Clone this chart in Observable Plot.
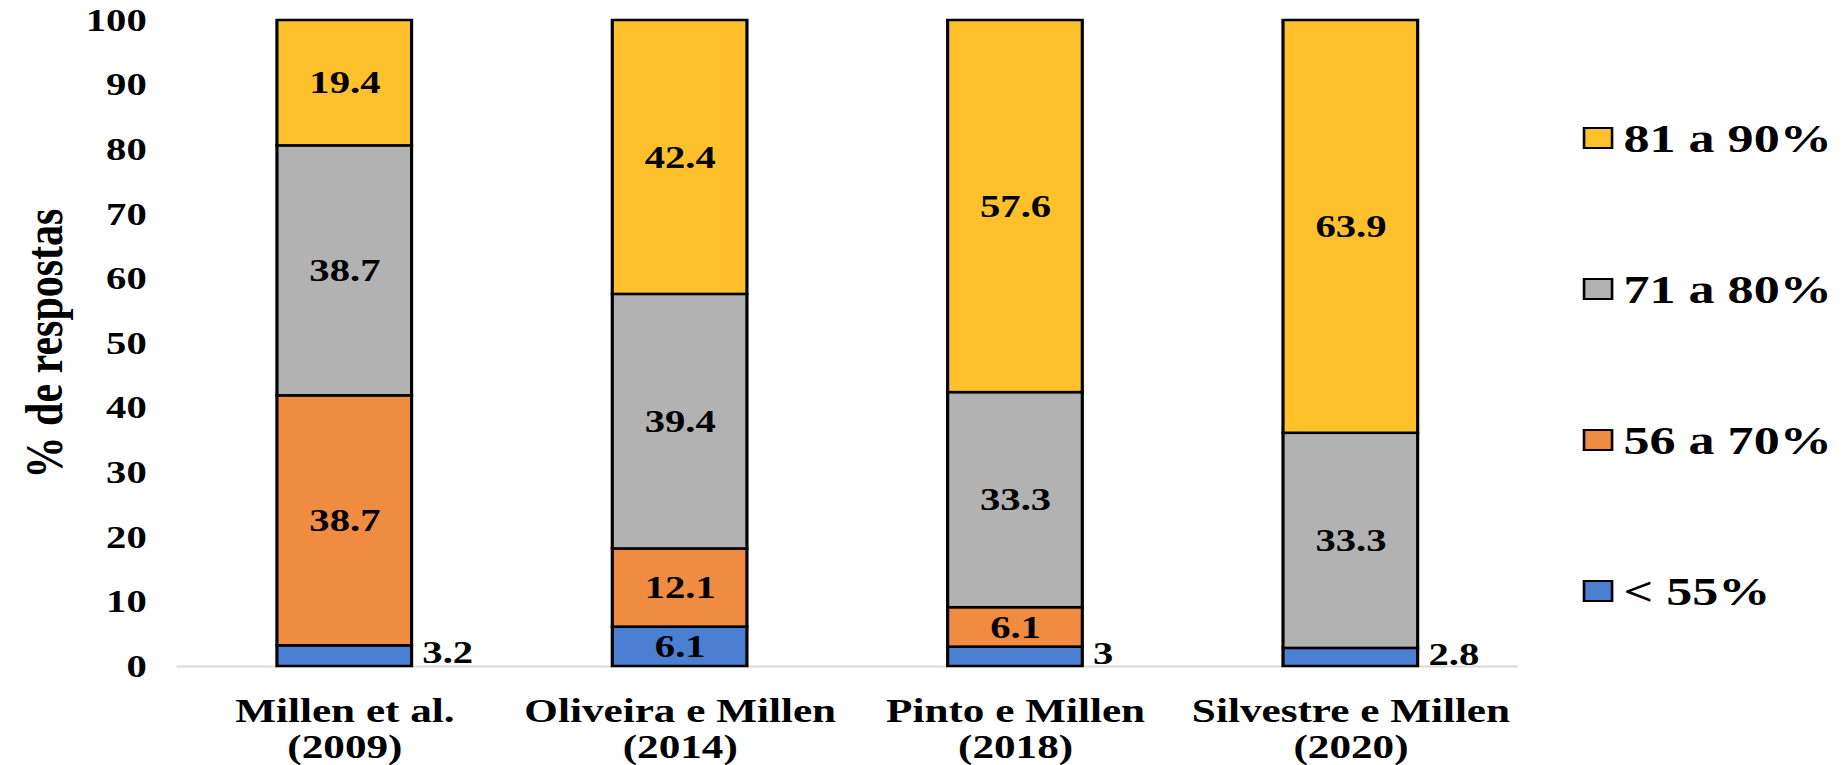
<!DOCTYPE html>
<html>
<head>
<meta charset="utf-8">
<script src="https://cdn.jsdelivr.net/npm/d3@7"></script>
<script src="https://cdn.jsdelivr.net/npm/@observablehq/plot@0.6"></script>
<style>
  body { margin: 0; background: #fff; overflow: hidden; }
  /* the whole figure is drawn at 1454px and widened to 1847px */
  #chart {
    position: relative; width: 1454px; height: 765px;
    transform: scaleX(1.2703); transform-origin: 0 0;
    font-family: "Liberation Serif", "Times New Roman", serif; font-weight: bold; color: #000;
  }
  #legend { position: absolute; left: 1246px; top: 62px; }
  .item { display: flex; align-items: center; height: 151px; font-size: 41px; white-space: nowrap; }
  .sw { width: 20px; height: 18px; border: 2px solid #000; margin-right: 8px; }
</style>
</head>
<body>
<div id="chart"></div>
<script>
// Studies on the x axis (two-line labels)
const studies = [
  "Millen et al.\n(2009)",
  "Oliveira e Millen\n(2014)",
  "Pinto e Millen\n(2018)",
  "Silvestre e Millen\n(2020)"
];

// Answer classes, bottom of the stack first
const categories = ["< 55%", "56 a 70%", "71 a 80%", "81 a 90%"];
const colors = ["#4a7fd1", "#f08c42", "#b2b2b2", "#fec12c"];

// % of answers per class, one value per study
const below55 = [3.2, 6.1, 3, 2.8];
const from56to70 = [38.7, 12.1, 6.1, 0];
const from71to80 = [38.7, 39.4, 33.3, 33.3];
const from81to90 = [19.4, 42.4, 57.6, 63.9];

const yTicks = [0, 10, 20, 30, 40, 50, 60, 70, 80, 90, 100];
const yTitle = "% de respostas";

const series = [below55, from56to70, from71to80, from81to90];
const rows = categories.flatMap((category, i) =>
  studies.map((study, j) => ({study, category, value: series[i][j]}))
);

const fmt = (v) => String(v);
const inside = (d) => d.value >= 5;
const outside = (d) => d.value > 0 && d.value < 5;

const plot = Plot.plot({
  width: 1454,
  height: 765,
  marginLeft: 139,
  marginRight: 259,
  marginTop: 20,
  marginBottom: 99,
  style: {
    fontFamily: '"Liberation Serif", "Times New Roman", serif',
    fontWeight: "bold",
    color: "#000",
    background: "#fff"
  },
  x: {domain: studies, paddingInner: 0.6, paddingOuter: 0.3, label: null},
  y: {domain: [0, 100], label: null},
  color: {domain: categories, range: colors},
  marks: [
    Plot.ruleY([0], {stroke: "#d9d9d9", strokeWidth: 2}),
    Plot.barY(rows, Plot.stackY({
      x: "study", y: "value", fill: "category",
      stroke: "#000", strokeWidth: 2.5
    })),
    // values inside the segments
    Plot.text(rows, Plot.stackY({
      x: "study", y: "value",
      text: (d) => (inside(d) ? fmt(d.value) : null),
      fontSize: 32
    })),
    // thin bottom segments are labelled beside the bar
    Plot.text(rows, Plot.stackY({
      x: "study", y: "value",
      text: (d) => (outside(d) ? fmt(d.value) : null),
      textAnchor: "start", dx: 61, dy: -3,
      fontSize: 32
    })),
    Plot.axisY({ticks: yTicks, tickSize: 0, tickPadding: 24, fontSize: 32, label: null}),
    Plot.axisX({tickSize: 0, tickPadding: 30, fontSize: 34, lineHeight: 1.06, label: null}),
    Plot.text([yTitle], {
      frameAnchor: "left", textAnchor: "middle", rotate: -90,
      dx: -104, fontSize: 42, lineAnchor: "middle"
    })
  ]
});

const chart = document.getElementById("chart");
chart.appendChild(plot);

// Legend, top class first
const legend = document.createElement("div");
legend.id = "legend";
categories.slice().reverse().forEach((c) => {
  const item = document.createElement("div");
  item.className = "item";
  const sw = document.createElement("span");
  sw.className = "sw";
  sw.style.background = colors[categories.indexOf(c)];
  const label = document.createElement("span");
  label.textContent = c;
  item.append(sw, label);
  legend.appendChild(item);
});
chart.appendChild(legend);
</script>
</body>
</html>
